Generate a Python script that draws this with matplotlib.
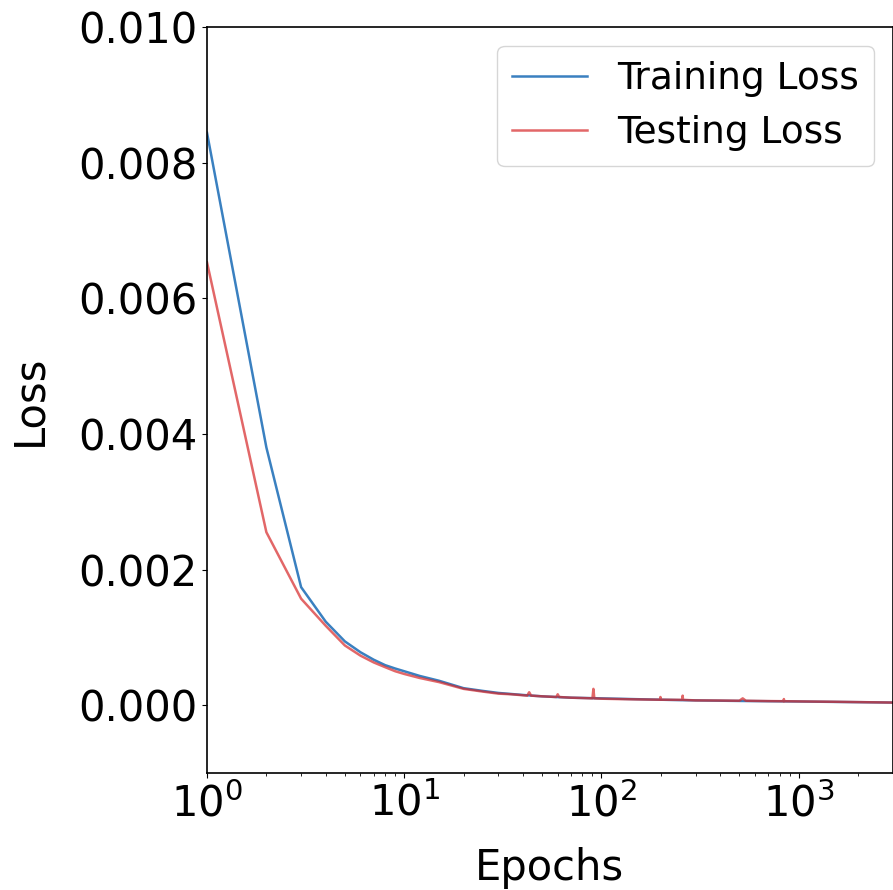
import matplotlib
matplotlib.use("Agg")
import matplotlib.pyplot as plt

train_epochs = [1, 2, 3, 4, 5, 6, 7, 8, 9, 10, 12, 15, 20, 25, 30, 40, 50, 70,
                100, 150, 200, 300, 500, 700, 1000, 1500, 2000, 3000]
train_loss = [0.00844, 0.00380, 0.00174, 0.00123, 0.00094, 0.00078, 0.00067,
              0.00059, 0.00054, 0.00050, 0.00043, 0.00036, 0.00025, 0.00021,
              0.00018, 0.00015, 0.00013, 0.00011, 0.00010, 0.000088, 0.00008,
              0.00007, 0.000062, 0.000058, 0.000054, 0.000048, 0.000044, 0.000038]

test_epochs = [1, 2, 3, 4, 5, 6, 7, 8, 9, 10, 12, 15, 20, 25, 30, 35, 42, 43, 44,
               50, 59, 60, 61, 70, 80, 90, 91, 92, 100, 120, 150, 198, 199, 200,
               257, 258, 259, 300, 400, 500, 520, 540, 700, 840, 841, 842, 1000,
               1500, 2000, 3000]
test_loss = [0.00653, 0.00255, 0.00157, 0.00117, 0.00088, 0.00073, 0.00063,
             0.00056, 0.00050, 0.00046, 0.00040, 0.00034, 0.00024, 0.00020,
             0.00017, 0.00016, 0.00014, 0.00019, 0.00014, 0.00013, 0.00012,
             0.00016, 0.00012, 0.00011, 0.000105, 0.00010, 0.00024, 0.00010,
             0.000095, 0.00009, 0.000085, 0.00008, 0.00012, 0.00008, 0.000078,
             0.00014, 0.000078, 0.00007, 0.000068, 0.000065, 0.00010, 0.000065,
             0.00006, 0.000058, 0.00009, 0.000058, 0.000055, 0.00005, 0.000045,
             0.000038]

fig = plt.figure(figsize=(8.93, 8.90), dpi=100)
ax = fig.add_axes([0.2318, 0.1315, 0.768, 0.8382])

ax.plot(train_epochs, train_loss, color="#3a80c0", lw=1.8, label="Training Loss")
ax.plot(test_epochs, test_loss, color="#d62728", alpha=0.7, lw=1.8, label="Testing Loss")

ax.set_xscale("log")
ax.set_xlim(1, 3000)
ax.set_ylim(-0.001, 0.010)
ax.set_yticks([0.000, 0.002, 0.004, 0.006, 0.008, 0.010])
ax.set_yticklabels(["0.000", "0.002", "0.004", "0.006", "0.008", "0.010"])
ax.tick_params(axis="both", which="major", labelsize=30)
for s in ax.spines.values():
    s.set_linewidth(1.2)
ax.set_xlabel("Epochs", fontsize=30, labelpad=16)
ax.set_ylabel("Loss", fontsize=30, labelpad=20)
ax.legend(loc="upper right", fontsize=27)

fig.savefig("out.png", dpi=100)
